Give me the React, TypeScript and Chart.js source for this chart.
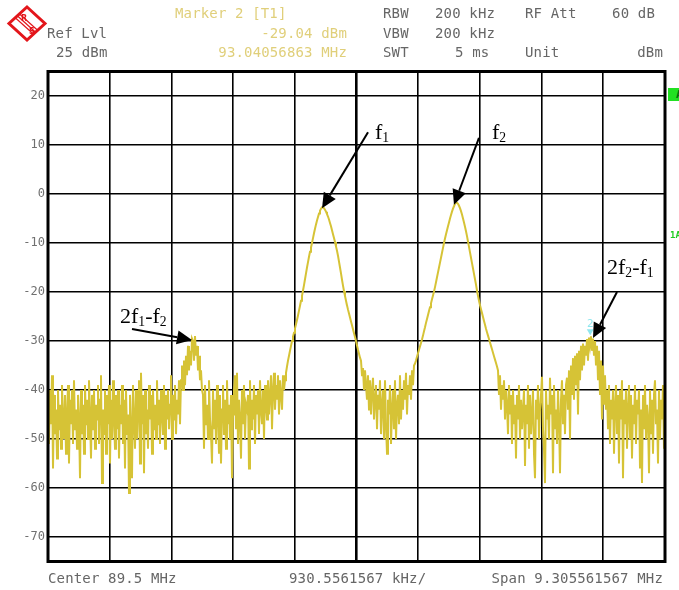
import React, { useEffect, useRef } from "react";
import { Chart, registerables } from "chart.js";

Chart.register(...registerables);

// Sweep settings
const CENTER_MHZ = 89.5;
const SPAN_MHZ = 9.305561567;
const DIVISIONS = 10;
const REF_LEVEL_DBM = 25;
const BOTTOM_LEVEL_DBM = -75;
const LEVEL_TICKS = [20, 10, 0, -10, -20, -30, -40, -50, -60, -70];

// Trace 1 (dBm), one reading per sweep point, left to right
const NOISE_LOW = [
  -42, -51, -40, -47, -37, -56, -41, -49, -44, -54,
  -40, -48, -43, -52, -39, -46, -50, -41, -53, -45,
  -39, -55, -42, -47, -40, -51, -38, -48, -44, -52,
  -41, -46, -58, -40, -49, -43, -53, -39, -47, -42,
  -50, -38, -45, -54, -41, -48, -40, -52, -43, -46,
  -39, -51, -42, -37, -59, -44, -49, -40, -53, -41,
  -47, -39, -55, -42, -50, -38, -46, -52, -41, -48,
  -40, -54, -43, -47, -39, -51, -42, -56, -40, -49,
  -45, -61, -41, -48, -58, -39, -46, -52, -40, -50,
  -43, -38, -55, -36.5, -47, -41, -57, -40, -49, -44,
  -52, -39, -46, -41, -53, -40, -48, -43, -50, -38,
  -47, -42, -51, -40, -45, -49, -39, -52, -41, -46,
  -40, -48, -43, -37, -50, -41, -46, -39, -49, -42,
  -45, -38, -47,
];
const IM3_LOW = [
  -38, -35, -40, -34, -39, -33, -37, -31, -36, -32,
  -35, -29.5, -30, -34, -29, -33, -31, -36, -33, -38,
  -36, -40,
];
const NOISE_MID = [
  -41, -52, -39, -47, -43, -50, -38, -46, -49, -55,
  -40, -48, -42, -51, -39, -45, -53, -41, -55, -44,
  -39, -49, -42, -52, -38, -47, -43, -50, -41, -58,
  -45, -40, -37, -48, -36.5, -51, -42, -46, -54, -40,
  -47, -39, -50, -43, -44, -41, -56, -38, -48, -42,
  -46, -39, -51, -41, -45, -40, -49, -38, -44, -47,
  -40, -50, -39, -43, -46, -38, -45, -41, -37, -48,
  -40, -36.5, -44, -39, -42, -37, -45, -38, -41, -44,
  -37, -40,
];
const TONE_F1 = [
  -38, -36.5, -35.2, -34, -33, -32, -31, -30, -29.1, -28.3,
  -27.4, -26.6, -25.7, -24.8, -23.8, -22.8, -21.8, -20.8, -19.7, -18.6,
  -17.4, -16.2, -15, -13.9, -12.8, -11.8, -10.9, -10, -9, -8,
  -7.1, -6.2, -5.4, -4.7, -4, -3.4, -3, -2.7, -2.7, -2.9,
  -3.2, -3.6, -4.1, -4.6, -5.2, -5.9, -6.6, -7.4, -8.2, -9,
  -9.8, -10.7, -11.6, -12.6, -13.8, -15, -16.2, -17.5, -18.7, -19.8,
  -20.8, -21.8, -22.7, -23.6, -24.4, -25.2, -26, -26.8, -27.6, -28.4,
  -29.2, -30, -30.9, -31.8, -32.6, -33.4,
];
const NOISE_VALLEY = [
  -34, -37, -35.5, -40, -36, -39, -42, -37, -44, -38,
  -45, -40, -37.5, -46, -42, -39, -48, -41, -44, -38,
  -49, -43, -40, -50, -38, -47, -53, -42, -45, -39,
  -51, -44, -40, -48, -38, -50, -43, -41, -47, -37,
  -46, -40, -44, -38, -42, -36.5, -45, -39, -41, -37,
  -42, -36, -39, -35,
];
const TONE_F2 = [
  -34.6, -34, -33.2, -32.5, -31.8, -31.1, -30.4, -29.7, -28.9, -28,
  -27.2, -26.3, -25.5, -24.7, -23.9, -23.1, -22.3, -21.5, -20.7, -19.9,
  -19, -18, -17, -16, -15, -14, -13, -12, -11, -10,
  -9.1, -8.2, -7.4, -6.6, -5.8, -5, -4.3, -3.6, -3, -2.5,
  -2, -1.8, -1.8, -2, -2.4, -2.9, -3.5, -4.2, -5, -5.8,
  -6.7, -7.6, -8.6, -9.7, -10.8, -11.9, -13, -14.1, -15.2, -16.3,
  -17.4, -18.5, -19.7, -20.8, -21.8, -22.7, -23.5, -24.3, -25.1, -25.9,
  -26.7, -27.5, -28.2, -28.9, -29.6, -30.3, -31, -31.7, -32.4, -33.1,
  -33.8, -34.5, -35.2,
];
const NOISE_HIGH = [
  -36, -41, -37, -44, -39, -42, -38, -46, -40, -43,
  -49, -39, -45, -41, -51, -40, -47, -43, -54, -41,
  -46, -39, -50, -42, -48, -44, -40, -55.5, -43, -47,
  -39, -52, -41, -49, -45, -40, -53, -58, -42, -46,
  -39, -50, -44, -41, -37.3, -48, -52, -59, -40, -46,
  -43, -50, -37.5, -45, -41, -57, -39, -48, -44, -51,
  -40, -46, -57, -42, -38, -47, -41, -49, -39, -37.5,
  -44, -36, -50, -35, -41, -33.5,
];
const IM3_HIGH = [
  -42, -33, -39, -32.5, -45, -32, -38, -31, -36, -30.5,
  -35, -31, -33, -29.6, -34, -29.3, -31, -29.04, -32, -29.5,
  -33, -30, -35, -31, -38, -32, -41, -34, -46, -35,
  -43,
];
const NOISE_TOP = [
  -37, -44, -40, -48, -39, -51, -42, -46, -40, -53,
  -43, -39, -49, -41, -55, -40, -46, -38, -58, -42,
  -47, -40, -52, -44, -39, -50, -41, -54, -43, -47,
  -39, -51, -42, -45, -40, -56, -44, -59, -41, -48,
  -39, -50, -43, -46, -57, -40, -49, -42, -53, -41,
  -38, -47, -44, -55, -40, -50, -42, -46, -39, -52,
  -45,
];

const TRACE_DBM = [
  ...NOISE_LOW, ...IM3_LOW, ...NOISE_MID, ...TONE_F1, ...NOISE_VALLEY,
  ...TONE_F2, ...NOISE_HIGH, ...IM3_HIGH, ...NOISE_TOP,
];

// Marker 2
const MARKER_FREQ_MHZ = 93.04056863;
const MARKER_LEVEL_DBM = -29.04;

// Arrow tips (frequency, level) and tail offsets in px
const ARROW_TIP_MHZ = [88.98, 90.97, 87.019, 93.067];
const ARROW_TIP_DBM = [-2.9, -2.2, -29.8, -29.4];
const ARROW_TAIL_OFFSET = [[46, -76], [25, -67], [-60, -11], [24, -46]];

const FREQ_START = CENTER_MHZ - SPAN_MHZ / 2;
const FREQ_STOP = CENTER_MHZ + SPAN_MHZ / 2;

const W = 679;
const H = 590;
const MONO = "'DejaVu Sans Mono', 'Liberation Mono', monospace";
const SERIF = "'Liberation Serif', 'Times New Roman', serif";
const GRAY = "#666666";
const AMBER = "#e0cf7a";
const TRACE = "#d6c336";

function drawArrow(ctx: CanvasRenderingContext2D, x0: number, y0: number, x1: number, y1: number) {
  const a = Math.atan2(y1 - y0, x1 - x0);
  const len = 15;
  const half = 7;
  const bx = x1 - len * Math.cos(a);
  const by = y1 - len * Math.sin(a);
  ctx.beginPath();
  ctx.moveTo(x0, y0);
  ctx.lineTo(bx, by);
  ctx.stroke();
  ctx.beginPath();
  ctx.moveTo(x1, y1);
  ctx.lineTo(bx + half * Math.sin(a), by - half * Math.cos(a));
  ctx.lineTo(bx - half * Math.sin(a), by + half * Math.cos(a));
  ctx.closePath();
  ctx.fill();
}

const overlayPlugin = {
  id: "overlay",
  afterDatasetsDraw(chart: any) {
    const { ctx, chartArea, scales } = chart;
    const xs = scales.x;
    const ys = scales.y;
    ctx.save();

    // marker 2
    const mx = xs.getPixelForValue(MARKER_FREQ_MHZ);
    const my = ys.getPixelForValue(MARKER_LEVEL_DBM);
    ctx.fillStyle = "#8fe6ee";
    ctx.beginPath();
    ctx.moveTo(mx - 1, my - 1);
    ctx.lineTo(mx - 4.5, my - 7);
    ctx.lineTo(mx + 2.5, my - 7);
    ctx.closePath();
    ctx.fill();
    ctx.font = `11px ${MONO}`;
    ctx.textAlign = "center";
    ctx.textBaseline = "alphabetic";
    ctx.fillText("2", mx - 1, my - 9);

    // arrows
    ctx.strokeStyle = "#000";
    ctx.fillStyle = "#000";
    ctx.lineWidth = 2;
    ARROW_TIP_MHZ.forEach((f, i) => {
      const tx = xs.getPixelForValue(f);
      const ty = ys.getPixelForValue(ARROW_TIP_DBM[i]);
      const [dx, dy] = ARROW_TAIL_OFFSET[i];
      drawArrow(ctx, tx + dx, ty + dy, tx, ty);
    });

    // frame
    ctx.lineWidth = 3;
    ctx.strokeStyle = "#000";
    ctx.strokeRect(chartArea.left, chartArea.top, chartArea.right - chartArea.left, chartArea.bottom - chartArea.top);
    ctx.restore();
  },
};

type TextProps = {
  x?: number;
  right?: number;
  baseline: number;
  size: number;
  family: string;
  color: string;
  ascent: number;
  descent: number;
  spacing?: number;
  children: React.ReactNode;
};

function Text({ x, right, baseline, size, family, color, ascent, descent, spacing, children }: TextProps) {
  const top = baseline - ((size - (ascent + descent) * size) / 2 + ascent * size);
  const style: React.CSSProperties = {
    position: "absolute",
    top,
    fontFamily: family,
    fontSize: size,
    lineHeight: `${size}px`,
    color,
    whiteSpace: "pre",
    letterSpacing: spacing ?? 0,
  };
  if (x !== undefined) style.left = x;
  else style.right = W - (right as number);
  return <div style={style}>{children}</div>;
}

const Mono = (p: { x?: number; right?: number; baseline: number; color?: string; children: React.ReactNode }) => (
  <Text {...p} size={14} family={MONO} color={p.color ?? GRAY} ascent={0.928} descent={0.236} spacing={0.15} />
);

const Serif = (p: { x: number; baseline: number; children: React.ReactNode }) => (
  <Text {...p} size={22} family={SERIF} color="#000" ascent={0.891} descent={0.216} />
);

const Sub = ({ children }: { children: React.ReactNode }) => (
  <span style={{ fontSize: "0.62em", verticalAlign: "-3px" }}>{children}</span>
);

function Logo() {
  return (
    <svg width={52} height={46} style={{ position: "absolute", left: 0, top: 0 }}>
      <defs>
        <clipPath id="rsClip">
          <polygon points="27,7 45,23.5 27,40 9,23.5" />
        </clipPath>
      </defs>
      <polygon points="27,7 45,23.5 27,40 9,23.5" fill="#fff" stroke="#e3161b" strokeWidth={3} />
      <g clipPath="url(#rsClip)" stroke="#e3161b" strokeWidth={1.2}>
        <line x1={12} y1={11} x2={42} y2={38} />
        <line x1={14} y1={9} x2={44} y2={36} />
        <line x1={10} y1={13} x2={40} y2={40} />
      </g>
      <text x={21} y={21} fill="#e3161b" fontSize={8} fontFamily="'DejaVu Sans', sans-serif" fontWeight="bold">R</text>
      <text x={29} y={34} fill="#e3161b" fontSize={8} fontFamily="'DejaVu Sans', sans-serif" fontWeight="bold">S</text>
    </svg>
  );
}

export default function App() {
  const canvasRef = useRef<HTMLCanvasElement | null>(null);

  useEffect(() => {
    document.body.style.margin = "0";
    const canvas = canvasRef.current;
    if (!canvas) return;
    const step = SPAN_MHZ / (TRACE_DBM.length - 1);
    const points = TRACE_DBM.map((v, i) => ({ x: FREQ_START + i * step, y: v }));

    const chart = new Chart(canvas, {
      type: "line",
      data: {
        datasets: [
          {
            data: points,
            borderColor: TRACE,
            borderWidth: 2,
            pointRadius: 0,
            tension: 0,
            fill: false,
          },
        ],
      },
      options: {
        animation: false,
        responsive: false,
        events: [],
        layout: { padding: { left: 0, right: 14, top: 71.5, bottom: 28.5 } },
        plugins: { legend: { display: false }, tooltip: { enabled: false } },
        scales: {
          x: {
            type: "linear",
            min: FREQ_START,
            max: FREQ_STOP,
            afterBuildTicks: (s: any) => {
              s.ticks = Array.from({ length: DIVISIONS + 1 }, (_, k) => ({
                value: FREQ_START + (k * SPAN_MHZ) / DIVISIONS,
              }));
            },
            afterFit: (s: any) => {
              s.height = 0;
            },
            ticks: { display: false },
            border: { display: false },
            grid: {
              color: "#000",
              drawTicks: false,
              lineWidth: (c: any) => (c.index === DIVISIONS / 2 ? 2.6 : 1.6),
            },
          },
          y: {
            type: "linear",
            min: BOTTOM_LEVEL_DBM,
            max: REF_LEVEL_DBM,
            afterBuildTicks: (s: any) => {
              s.ticks = LEVEL_TICKS.map((v) => ({ value: v }));
            },
            afterFit: (s: any) => {
              s.width = 48;
            },
            ticks: {
              color: "#707070",
              padding: 3,
              font: { family: MONO, size: 12 },
            },
            border: { display: false },
            grid: { color: "#000", drawTicks: false, lineWidth: 1.6 },
          },
        },
      },
      plugins: [overlayPlugin],
    });
    return () => chart.destroy();
  }, []);

  return (
    <div style={{ position: "relative", width: W, height: H, overflow: "hidden", background: "#fff" }}>
      <canvas ref={canvasRef} width={W} height={H} style={{ position: "absolute", left: 0, top: 0 }} />
      <Logo />

      <Mono x={175} baseline={18} color={AMBER}>Marker 2 [T1]</Mono>
      <Mono x={383} baseline={18}>RBW</Mono>
      <Mono x={435} baseline={18}>200 kHz</Mono>
      <Mono x={525} baseline={18}>RF Att</Mono>
      <Mono right={655} baseline={18}>60 dB</Mono>

      <Mono x={47} baseline={37.5}>Ref Lvl</Mono>
      <Mono right={347} baseline={37.5} color={AMBER}>-29.04 dBm</Mono>
      <Mono x={383} baseline={37.5}>VBW</Mono>
      <Mono x={435} baseline={37.5}>200 kHz</Mono>

      <Mono x={56} baseline={57}>25 dBm</Mono>
      <Mono right={347} baseline={57} color={AMBER}>93.04056863 MHz</Mono>
      <Mono x={383} baseline={57}>SWT</Mono>
      <Mono x={455} baseline={57}>5 ms</Mono>
      <Mono x={525} baseline={57}>Unit</Mono>
      <Mono right={663} baseline={57}>dBm</Mono>

      <Mono x={48} baseline={582.5}>Center 89.5 MHz</Mono>
      <Mono x={289} baseline={582.5}>930.5561567 kHz/</Mono>
      <Mono right={663} baseline={582.5}>Span 9.305561567 MHz</Mono>

      <Serif x={375} baseline={139}>f<Sub>1</Sub></Serif>
      <Serif x={492} baseline={139}>f<Sub>2</Sub></Serif>
      <Serif x={120} baseline={323}>2f<Sub>1</Sub>-f<Sub>2</Sub></Serif>
      <Serif x={607} baseline={274}>2f<Sub>2</Sub>-f<Sub>1</Sub></Serif>

      <div
        style={{
          position: "absolute",
          left: 668,
          top: 88,
          width: 16,
          height: 13,
          background: "#22e022",
          color: "#0a6a0a",
          fontFamily: MONO,
          fontSize: 11,
          lineHeight: "13px",
          paddingLeft: 8,
          fontWeight: "bold",
        }}
      >
        A
      </div>
      <div
        style={{
          position: "absolute",
          left: 670,
          top: 230,
          color: "#22cc22",
          fontFamily: MONO,
          fontSize: 9,
          fontWeight: "bold",
          lineHeight: "10px",
          whiteSpace: "pre",
        }}
      >
        1AP
      </div>
    </div>
  );
}
